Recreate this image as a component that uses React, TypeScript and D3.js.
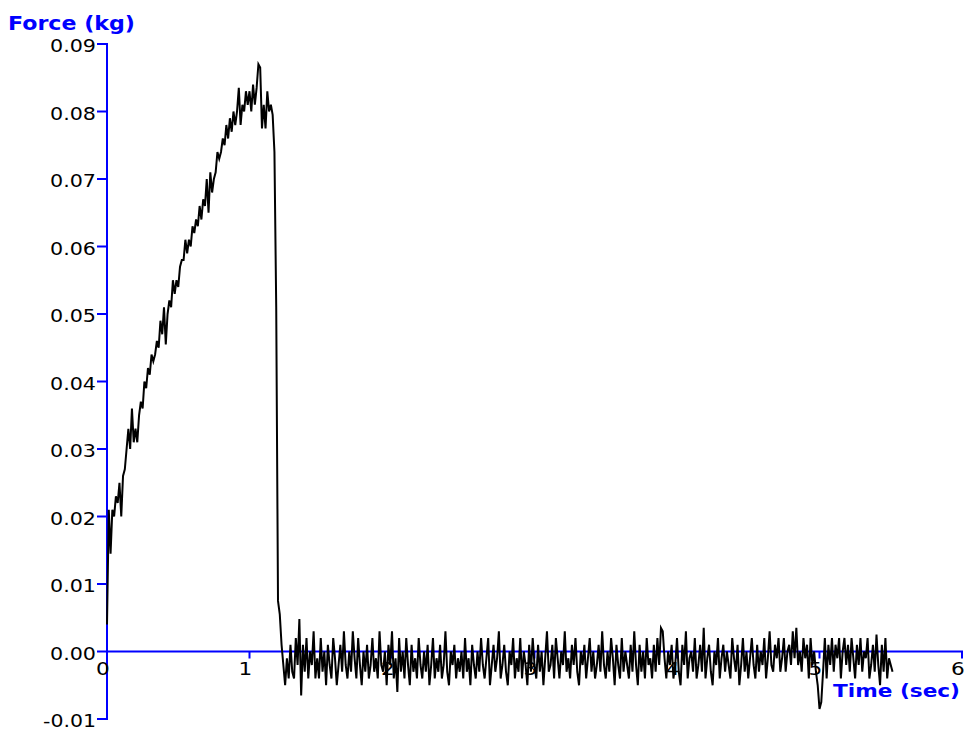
import React from "react";
import * as d3 from "d3";

// Sampling interval of the force recording (seconds)
const SAMPLE_STEP = 0.0125;

// Loading phase: rise, peak and release (kg)
const rampForce = [
  0.004, 0.021, 0.0145, 0.021, 0.020, 0.023, 0.022, 0.025, 0.020, 0.026,
  0.027, 0.030, 0.033, 0.030, 0.036, 0.031, 0.033, 0.031, 0.035, 0.037,
  0.036, 0.040, 0.039, 0.042, 0.041, 0.044, 0.043, 0.044, 0.046, 0.045,
  0.049, 0.047, 0.051, 0.0455, 0.050, 0.052, 0.051, 0.055, 0.053, 0.055,
  0.054, 0.057, 0.058, 0.058, 0.061, 0.059, 0.061, 0.060, 0.063, 0.062,
  0.064, 0.063, 0.066, 0.064, 0.067, 0.066, 0.070, 0.065, 0.071, 0.068,
  0.070, 0.071, 0.074, 0.073, 0.074, 0.076, 0.075, 0.078, 0.076, 0.079,
  0.077, 0.080, 0.078, 0.080, 0.0835, 0.078, 0.081, 0.080, 0.083, 0.081,
  0.083, 0.080, 0.084, 0.081, 0.0835, 0.087, 0.0865, 0.0775, 0.081, 0.0775,
  0.083, 0.080, 0.081, 0.0795, 0.074, 0.051, 0.0075, 0.0055, 0.001,
];

// Unloaded phase: baseline noise (kg)
const restForce = [
  -0.002, -0.005, -0.001, -0.004, 0.001, -0.003, -0.004, 0.002, -0.002, 0.0048,
  -0.0065, 0.001, -0.003, 0.002, -0.004, 0.000, -0.002, 0.003, -0.004, -0.001,
  -0.004, 0.002, -0.003, 0.000, -0.005, 0.001, -0.002, -0.004, 0.002, -0.001,
  -0.005, -0.002, 0.001, -0.003, 0.003, -0.002, -0.004, 0.000, -0.003, 0.003,
  -0.001, -0.004, 0.002, -0.002, -0.005, 0.000, -0.003, 0.001, -0.004, -0.002,
  0.002, -0.003, -0.001, -0.004, 0.003, -0.002, -0.003, 0.000, -0.005, 0.001,
  -0.002, 0.003, -0.004, -0.001, -0.006, 0.002, -0.003, 0.000, -0.004, 0.002,
  -0.002, -0.005, 0.001, -0.003, -0.001, -0.004, 0.002, -0.002, -0.004, 0.000,
  -0.003, 0.001, -0.005, -0.002, 0.002, -0.004, -0.001, -0.003, 0.001, -0.004,
  -0.002, 0.003, -0.003, -0.005, 0.000, -0.002, 0.001, -0.004, -0.001, -0.003,
  0.000, -0.004, 0.002, -0.003, -0.001, -0.005, 0.001, -0.002, -0.004, 0.000,
  -0.003, 0.002, -0.002, -0.004, -0.001, 0.002, -0.005, -0.002, 0.001, -0.003,
  -0.001, 0.003, -0.004, -0.002, 0.001, -0.003, -0.005, 0.000, -0.002, 0.002,
  -0.004, -0.001, -0.003, 0.002, -0.004, 0.000, -0.002, -0.005, 0.001, -0.003,
  0.002, -0.002, -0.004, 0.001, -0.003, 0.000, -0.005, -0.001, 0.003, -0.003,
  -0.002, 0.001, -0.004, 0.002, -0.001, -0.004, 0.000, -0.002, 0.003, -0.003,
  -0.001, -0.004, 0.001, -0.002, 0.002, -0.003, -0.005, 0.000, -0.002, 0.001,
  -0.004, -0.001, 0.002, -0.003, 0.000, -0.004, -0.002, 0.001, -0.003, 0.003,
  -0.002, -0.004, 0.000, -0.003, 0.002, -0.001, -0.005, 0.001, -0.002, -0.004,
  0.002, -0.003, 0.000, -0.002, -0.004, 0.001, -0.003, 0.003, -0.002, -0.005,
  0.001, -0.003, 0.000, -0.004, 0.002, -0.002, -0.001, -0.004, 0.001, -0.003,
  0.002, -0.002, 0.0035, 0.003, -0.001, -0.004, 0.000, -0.002, 0.001, -0.004,
  -0.002, 0.002, -0.003, -0.005, 0.001, -0.002, 0.003, -0.004, -0.001, 0.000,
  -0.003, 0.002, -0.004, -0.002, 0.001, -0.003, 0.0035, -0.004, -0.001, 0.001,
  -0.003, -0.005, 0.000, -0.002, 0.002, -0.004, -0.001, 0.001, -0.003, 0.000,
  -0.002, -0.004, 0.002, -0.001, -0.003, 0.001, -0.005, -0.002, 0.002, -0.003,
  0.000, -0.004, -0.001, 0.002, -0.002, -0.004, 0.001, -0.003, 0.000, -0.002,
  0.002, -0.004, -0.001, 0.003, -0.002, -0.003, 0.001, -0.001, 0.002, -0.003,
  -0.001, 0.002, -0.003, 0.000, 0.001, -0.002, 0.003, -0.001, 0.0035, -0.002,
  0.000, -0.003, 0.002, -0.001, 0.001, -0.004, 0.002, -0.002, 0.000, -0.003,
  -0.005, -0.0085, -0.0075, -0.003, 0.002, -0.004, 0.001, -0.002, 0.002, -0.003,
  0.001, -0.001, 0.002, -0.004, 0.000, 0.002, -0.002, 0.001, -0.003, 0.002,
  -0.001, -0.004, 0.001, -0.002, 0.002, -0.003, 0.000, -0.001, 0.002, -0.004,
  -0.002, 0.001, -0.003, 0.0025, -0.002, -0.005, 0.001, -0.003, 0.002, -0.004,
  -0.001, -0.002, -0.003,
];

const xTicks = [0, 1, 2, 3, 4, 5, 6];
const yTicks = [-0.01, 0, 0.01, 0.02, 0.03, 0.04, 0.05, 0.06, 0.07, 0.08, 0.09];
const xTitle = "Time (sec)";
const yTitle = "Force (kg)";

const W = 964;
const H = 733;
const AXIS = "#0000ff";
const FONT = "'DejaVu Sans', Verdana, sans-serif";

export default function App() {
  const force = [...rampForce, ...restForce];
  const x = d3.scaleLinear().domain([0, 6]).range([107, 962]);
  const y = d3.scaleLinear().domain([-0.01, 0.09]).range([719, 44]);
  const fmt = (v: number) => d3.format(".2f")(v).replace("\u2212", "-");

  const line = d3
    .line<number>()
    .x((_, i) => x(i * SAMPLE_STEP))
    .y((d) => y(d));

  const y0 = y(0);
  const xAxisX = x(0);

  return (
    <svg
      width={W}
      height={H}
      style={{ position: "absolute", left: 0, top: 0, background: "#fff" }}
      fontFamily={FONT}
    >
      {/* y axis */}
      <line x1={xAxisX} x2={xAxisX} y1={y(0.09) - 1} y2={y(-0.01) + 1} stroke={AXIS} strokeWidth={2} />
      {yTicks.map((t) => (
        <g key={t}>
          <line x1={xAxisX - 10} x2={xAxisX} y1={y(t)} y2={y(t)} stroke={AXIS} strokeWidth={2} />
          <text
            x={96}
            y={y(t) + 8}
            textAnchor="end"
            fontSize={17}
            fill="#000"
            textLength={t < 0 ? 53 : 46}
            lengthAdjust="spacingAndGlyphs"
          >
            {fmt(t)}
          </text>
        </g>
      ))}

      {/* x axis */}
      <line x1={xAxisX - 1} x2={x(6) + 1} y1={y0} y2={y0} stroke={AXIS} strokeWidth={2} />
      {xTicks.map((t) => (
        <g key={t}>
          <line x1={x(t)} x2={x(t)} y1={y0} y2={y0 + 7} stroke={AXIS} strokeWidth={2} />
          <text
            x={x(t) - 4}
            y={y0 + 24}
            textAnchor="middle"
            fontSize={18}
            fill="#000"
            transform={`translate(${x(t) - 4},0) scale(1.2,1) translate(${-(x(t) - 4)},0)`}
          >
            {t}
          </text>
        </g>
      ))}

      {/* titles */}
      <text
        x={8}
        y={30}
        fontSize={20}
        fontWeight="bold"
        fill={AXIS}
        textLength={127}
        lengthAdjust="spacingAndGlyphs"
      >
        {yTitle}
      </text>
      <text
        x={833}
        y={697}
        fontSize={18.5}
        fontWeight="bold"
        fill={AXIS}
        textLength={127}
        lengthAdjust="spacingAndGlyphs"
      >
        {xTitle}
      </text>

      {/* data */}
      <path d={line(force) ?? ""} fill="none" stroke="#000" strokeWidth={2} strokeLinejoin="miter" />
    </svg>
  );
}
